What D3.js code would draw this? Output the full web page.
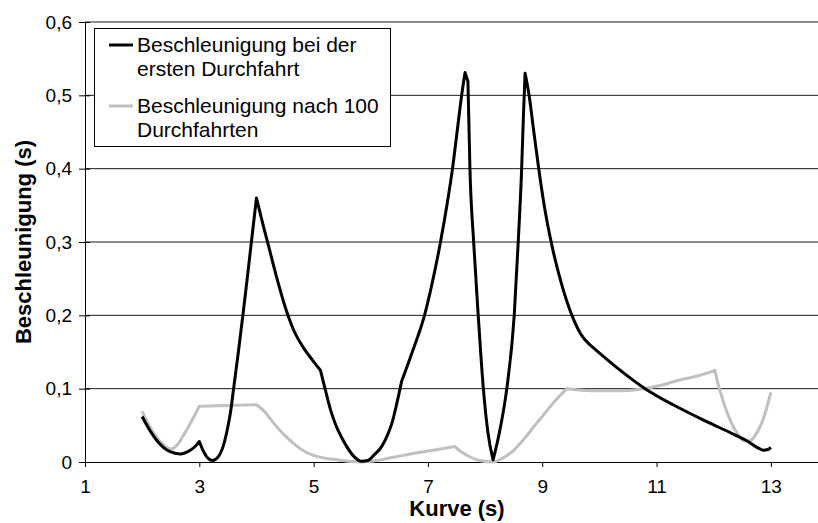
<!DOCTYPE html>
<html>
<head>
<meta charset="utf-8">
<script src="https://cdn.jsdelivr.net/npm/d3@7"></script>
<style>
  html, body { margin: 0; padding: 0; background: #fff; }
  svg { display: block; font-family: "Liberation Sans", Arial, sans-serif; }
</style>
</head>
<body>
<svg id="chart" width="818" height="523"></svg>
<script>
// Curve position (s) and acceleration values for the first pass
const firstPassX = [2.00, 2.12, 2.25, 2.37, 2.49, 2.66, 2.84, 2.95, 3.00, 3.07, 3.13, 3.23, 3.33, 3.42, 3.50, 3.55, 3.60, 3.68, 3.77, 3.85, 3.92, 4.00,
  4.10, 4.20, 4.36, 4.50, 4.65, 4.83, 4.98, 5.12, 5.20, 5.30, 5.40, 5.50, 5.58, 5.70, 5.84, 5.95, 6.05, 6.19, 6.30, 6.37, 6.45, 6.54,
  6.74, 6.94, 7.08, 7.22, 7.33, 7.43, 7.51, 7.59, 7.65, 7.70, 7.735, 7.80, 7.88, 7.97, 8.05, 8.14, 8.25, 8.38, 8.51, 8.58, 8.64, 8.67, 8.70,
  8.77, 8.85, 8.93, 9.03, 9.17, 9.33, 9.52, 9.67, 9.83, 10.30, 10.80, 11.29, 11.88, 12.37, 12.60, 12.78, 12.87, 12.95, 13.00];
const firstPassY = [0.062, 0.045, 0.030, 0.020, 0.014, 0.011, 0.016, 0.023, 0.028, 0.015, 0.007, 0.002, 0.007, 0.022, 0.048, 0.070, 0.100, 0.148, 0.205, 0.258, 0.306, 0.360,
  0.328, 0.298, 0.250, 0.212, 0.180, 0.155, 0.139, 0.125, 0.100, 0.070, 0.048, 0.032, 0.021, 0.008, 0.001, 0.002, 0.009, 0.021, 0.038, 0.053, 0.078, 0.110,
  0.153, 0.200, 0.246, 0.300, 0.349, 0.400, 0.450, 0.500, 0.531, 0.519, 0.400, 0.300, 0.200, 0.100, 0.040, 0.003, 0.040, 0.100, 0.200, 0.300, 0.400, 0.470, 0.530,
  0.500, 0.452, 0.405, 0.352, 0.295, 0.245, 0.200, 0.175, 0.160, 0.129, 0.100, 0.078, 0.055, 0.037, 0.028, 0.019, 0.016, 0.017, 0.020];
// positions where the first-pass curve has a sharp corner
const firstPassCorners = [3.00, 4.00, 5.12, 6.54, 7.65, 7.70, 8.14, 8.70, 9.83];

// Acceleration after 100 passes
const afterPassesX = [2.00, 2.12, 2.25, 2.37, 2.45, 2.52, 2.62, 2.75, 2.88, 3.00, 3.50, 4.00, 4.15, 4.30, 4.50, 4.70, 4.85, 5.00, 5.20, 5.40, 5.60, 5.85, 6.10, 6.30, 6.50, 6.70,
  7.00, 7.25, 7.47, 7.60, 7.74, 7.90, 8.14, 8.30, 8.50, 8.70, 8.85, 9.00, 9.20, 9.43, 9.70, 10.00, 10.30, 10.77, 11.10, 11.41, 11.75, 12.02, 12.10, 12.20, 12.30,
  12.42, 12.52, 12.64, 12.74, 12.84, 12.92, 13.00];
const afterPassesY = [0.069, 0.050, 0.034, 0.024, 0.019, 0.018, 0.024, 0.040, 0.058, 0.076, 0.077, 0.078, 0.068, 0.053, 0.036, 0.022, 0.014, 0.009, 0.005, 0.003, 0.001, 0.000, 0.002, 0.005, 0.008, 0.011,
  0.015, 0.018, 0.021, 0.013, 0.007, 0.002, 0.000, 0.005, 0.016, 0.033, 0.048, 0.062, 0.081, 0.100, 0.098, 0.097, 0.097, 0.100, 0.105, 0.112, 0.118, 0.125, 0.100, 0.075, 0.055,
  0.038, 0.029, 0.029, 0.038, 0.053, 0.072, 0.095];
const afterPassesCorners = [3.00, 4.00, 7.47, 9.43, 12.02];

const xTicks = [1, 3, 5, 7, 9, 11, 13];
const yTicks = [0, 0.1, 0.2, 0.3, 0.4, 0.5, 0.6];
const seriesNames = ["Beschleunigung bei der|ersten Durchfahrt", "Beschleunigung nach 100|Durchfahrten"];
const seriesColors = ["#000000", "#c0c0c0"];
const xTitle = "Kurve (s)";
const yTitle = "Beschleunigung (s)";

const svg = d3.select("#chart");
const x = d3.scaleLinear().domain([1, 14]).range([85, 828]);
const y = d3.scaleLinear().domain([0, 0.6]).range([462, 22]);
const fmt = v => v === 0 ? "0" : d3.format(".1f")(v).replace(".", ",");

// horizontal gridlines
svg.append("g").selectAll("line")
  .data(yTicks.filter(v => v > 0))
  .join("line")
  .attr("x1", x(1)).attr("x2", x(14))
  .attr("y1", d => y(d)).attr("y2", d => y(d))
  .attr("stroke", "#1a1a1a").attr("stroke-width", 1);

// y axis
const yAxis = svg.append("g").attr("transform", `translate(${x(1)},0)`)
  .call(d3.axisLeft(y).tickValues(yTicks).tickFormat(fmt).tickSize(6).tickPadding(7));
yAxis.selectAll(".tick line").attr("x1", 5).attr("stroke", "#000");
yAxis.select(".domain").attr("d", `M0.5,${y(0.6)}V${y(0)}`).attr("stroke", "#000");
yAxis.selectAll("text").attr("font-size", 19).attr("fill", "#000").attr("font-family", "Liberation Sans, Arial, sans-serif");

// x axis
const xAxis = svg.append("g").attr("transform", `translate(0,${y(0)})`)
  .call(d3.axisBottom(x).tickValues(xTicks).tickFormat(d3.format("d")).tickSize(5).tickPadding(13));
xAxis.select(".domain").attr("d", `M${x(1)},0.5H${x(14)}`).attr("stroke", "#000");
xAxis.selectAll(".tick line").attr("stroke", "#000");
xAxis.selectAll("text").attr("font-size", 19).attr("fill", "#000").attr("font-family", "Liberation Sans, Arial, sans-serif");

// axis titles
svg.append("text").attr("x", 457).attr("y", 516).attr("text-anchor", "middle")
  .attr("font-size", 22).attr("font-weight", "bold").text(xTitle);
svg.append("text").attr("transform", `translate(31,${y(0.3)}) rotate(-90)`).attr("text-anchor", "middle")
  .attr("font-size", 22).attr("font-weight", "bold").text(yTitle);

// smooth line between corners, sharp at each corner point
const smooth = d3.line().x(d => x(d[0])).y(d => y(d[1])).curve(d3.curveMonotoneX);
function cornerPath(xs, ys, corners) {
  const pts = d3.zip(xs, ys);
  const parts = [];
  let start = 0;
  pts.forEach((p, i) => {
    if (i > start && (corners.includes(p[0]) || i === pts.length - 1)) {
      parts.push(pts.slice(start, i + 1));
      start = i;
    }
  });
  return parts.map((seg, k) => {
    const d = smooth(seg);
    return k === 0 ? d : "L" + d.slice(1);
  }).join("");
}

svg.append("path").attr("d", cornerPath(afterPassesX, afterPassesY, afterPassesCorners))
  .attr("fill", "none").attr("stroke", seriesColors[1]).attr("stroke-width", 3).attr("stroke-linejoin", "round");
svg.append("path").attr("d", cornerPath(firstPassX, firstPassY, firstPassCorners))
  .attr("fill", "none").attr("stroke", seriesColors[0]).attr("stroke-width", 3).attr("stroke-linejoin", "round");

// legend
const legend = svg.append("g");
legend.append("rect").attr("x", 94.5).attr("y", 28.5).attr("width", 296).attr("height", 118)
  .attr("fill", "#fff").attr("stroke", "#000").attr("stroke-width", 1);
const entryY = [45, 106];
seriesNames.forEach((name, i) => {
  legend.append("line").attr("x1", 109).attr("x2", 133).attr("y1", entryY[i]).attr("y2", entryY[i])
    .attr("stroke", seriesColors[i]).attr("stroke-width", 3);
  const lines = name.split("|");
  const t = legend.append("text").attr("font-size", 21).attr("fill", "#000");
  lines.forEach((s, k) => {
    t.append("tspan").attr("x", 137).attr("y", entryY[i] + 7 + k * 24).text(s);
  });
});
</script>
</body>
</html>
